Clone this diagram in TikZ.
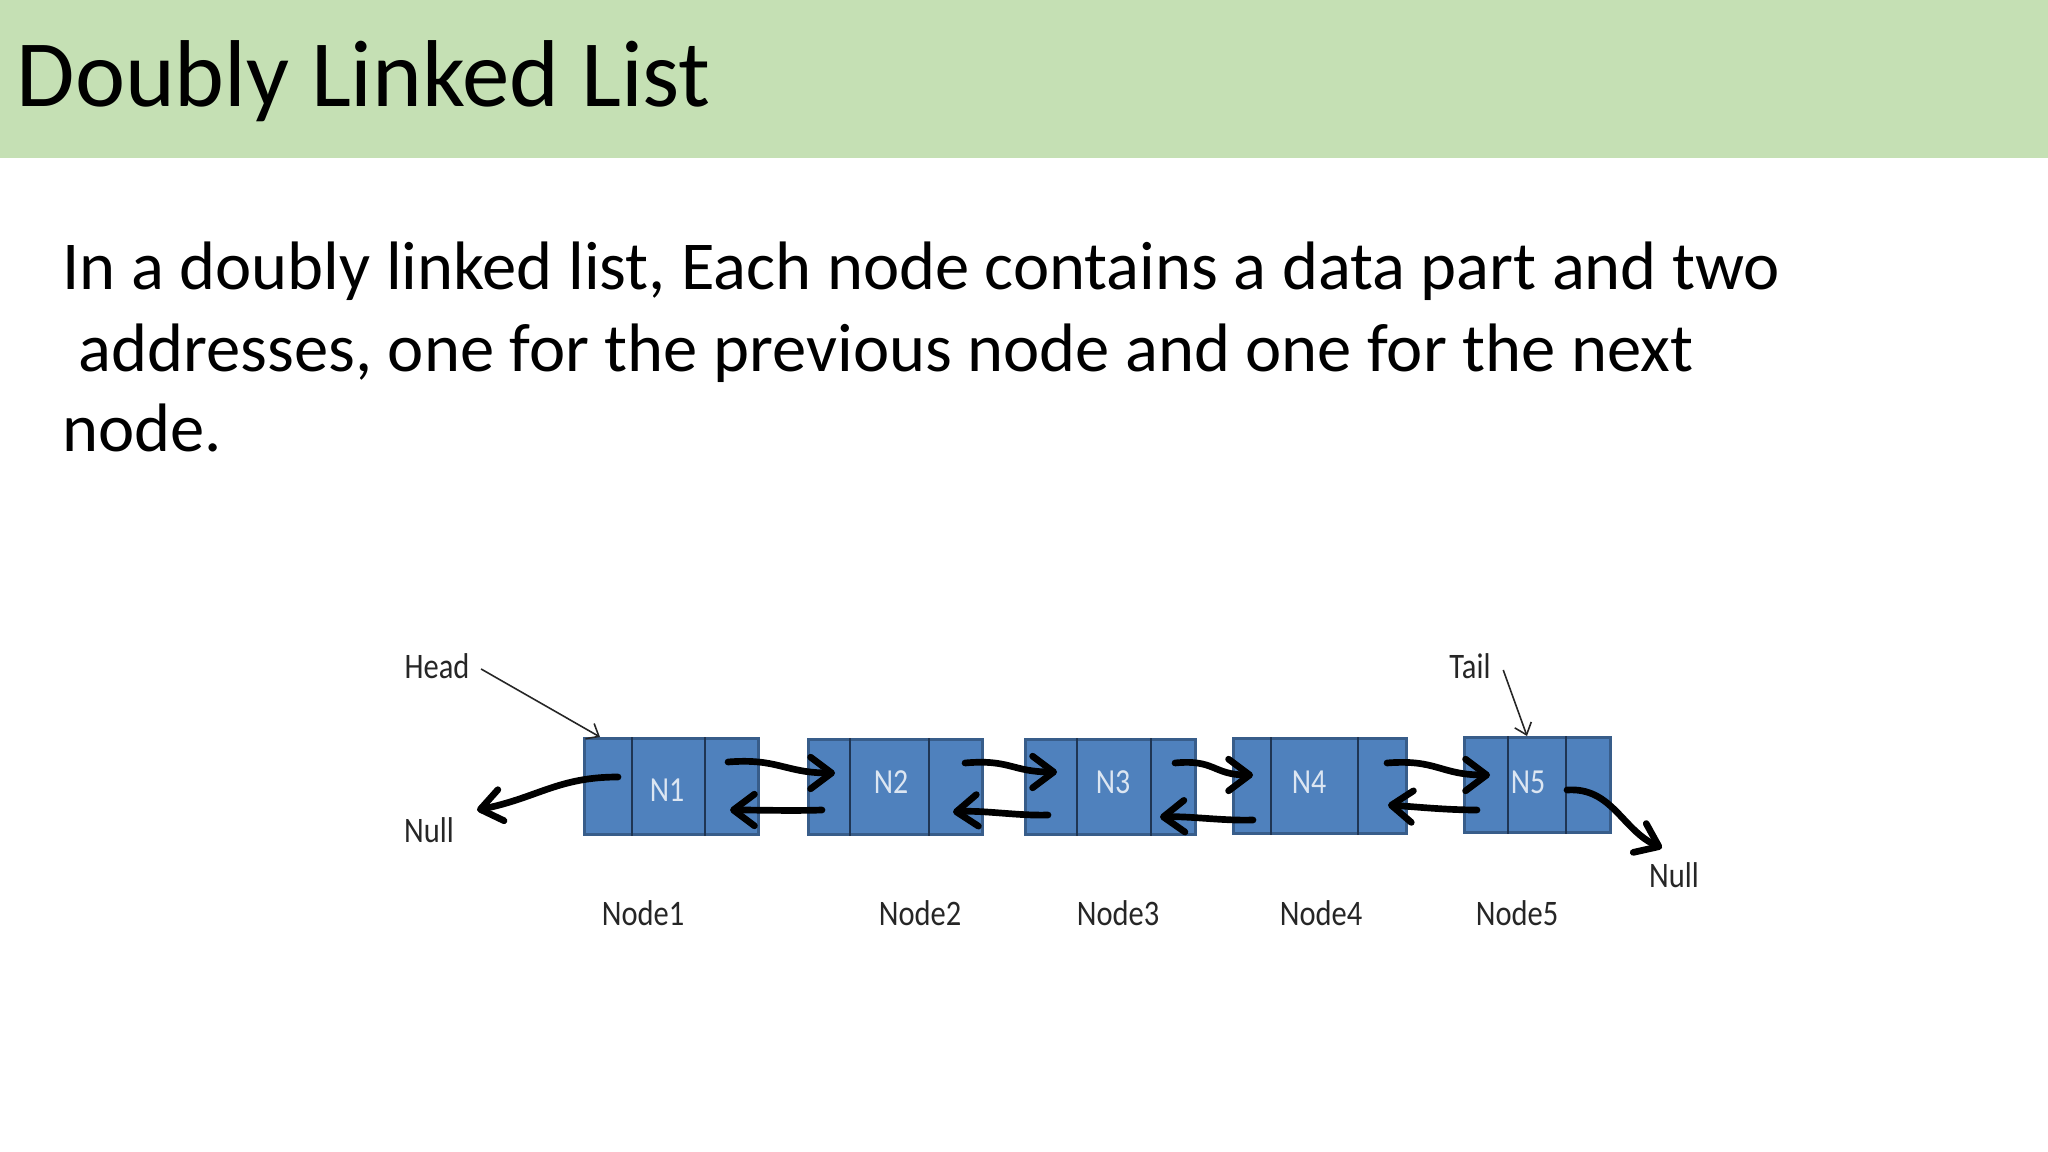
\documentclass[tikz,border=0pt]{standalone}
\usepackage{fontspec}
\setmainfont{Carlito}
\newfontfamily\diafont{Carlito}[FakeStretch=0.85]
\usetikzlibrary{arrows.meta,calc}
\definecolor{band}{HTML}{C5E0B4}
\definecolor{boxfill}{HTML}{4F81BD}
\definecolor{boxline}{HTML}{385D8A}
\definecolor{divline}{HTML}{1F3553}
\definecolor{celltext}{HTML}{DCE6F2}
\definecolor{labeltext}{HTML}{262626}
\tikzset{
 listbox/.style={draw=boxline, line width=0.8pt, fill=boxfill, rectangle, anchor=north west, inner sep=0pt},
 divider/.style={draw=divline, line width=0.7pt},
 celllabel/.style={font=\diafont\fontsize{10}{11}\selectfont, text=celltext, inner sep=0pt},
 caption/.style={font=\diafont\fontsize{10.2}{12}\selectfont, text=labeltext, inner sep=0pt},
 link/.style={draw=black, line width=1.9pt, line cap=round, -{Straight Barb[length=6pt,width=9pt,round]}},
 pointer/.style={draw=labeltext, line width=0.45pt, -{Straight Barb[length=3pt,width=5pt]}},
 bodytext/.style={anchor=base west, inner sep=0pt, font=\fontsize{19.5}{24}\selectfont},
}
\begin{document}
\begin{tikzpicture}[x=0.01cm,y=-0.01cm]
\useasboundingbox (0,0) rectangle (2048,1152);
\fill[white] (0,0) rectangle (2048,1152);
\fill[band] (0,0) rectangle (2048,158);
\node[anchor=base west, inner sep=0pt, font=\fontsize{27}{32}\selectfont] (title) at (16,107) {Doubly Linked List};
\node[bodytext] (line1) at (62,290) {In a doubly linked list, Each node contains a data part and two};
\node[bodytext] (line2) at (78,372) {addresses, one for the previous node and one for the next};
\node[bodytext] (line3) at (62,452) {node.};

% list boxes
\node[listbox, minimum width=1.74cm, minimum height=0.96cm] (n1) at (583,737) {};
\node[listbox, minimum width=1.74cm, minimum height=0.95cm] (n2) at (807,738) {};
\node[listbox, minimum width=1.70cm, minimum height=0.95cm] (n3) at (1024,738) {};
\node[listbox, minimum width=1.73cm, minimum height=0.95cm] (n4) at (1232,737) {};
\node[listbox, minimum width=1.46cm, minimum height=0.95cm] (n5) at (1463,736) {};
% dividers
\draw[divider] ([shift={(49,0)}]n1.north west) -- ([shift={(49,0)}]n1.south west);
\draw[divider] ([shift={(122,0)}]n1.north west) -- ([shift={(122,0)}]n1.south west);
\draw[divider] ([shift={(43,0)}]n2.north west) -- ([shift={(43,0)}]n2.south west);
\draw[divider] ([shift={(122,0)}]n2.north west) -- ([shift={(122,0)}]n2.south west);
\draw[divider] ([shift={(53,0)}]n3.north west) -- ([shift={(53,0)}]n3.south west);
\draw[divider] ([shift={(127,0)}]n3.north west) -- ([shift={(127,0)}]n3.south west);
\draw[divider] ([shift={(39,0)}]n4.north west) -- ([shift={(39,0)}]n4.south west);
\draw[divider] ([shift={(126,0)}]n4.north west) -- ([shift={(126,0)}]n4.south west);
\draw[divider] ([shift={(45,0)}]n5.north west) -- ([shift={(45,0)}]n5.south west);
\draw[divider] ([shift={(103,0)}]n5.north west) -- ([shift={(103,0)}]n5.south west);
% cell labels
\node[celllabel] (l1) at (667,790) {N1};
\node[celllabel] (l2) at (891,782) {N2};
\node[celllabel] (l3) at (1113,782) {N3};
\node[celllabel] (l4) at (1309,782) {N4};
\node[celllabel] (l5) at (1528,782) {N5};
% captions
\node[caption] (c1) at (643,913) {Node1};
\node[caption] (c2) at (920,913) {Node2};
\node[caption] (c3) at (1118,913) {Node3};
\node[caption] (c4) at (1321,913) {Node4};
\node[caption] (c5) at (1517,913) {Node5};
\node[caption] (head) at (437,666) {Head};
\node[caption] (tail) at (1470,666) {Tail};
\node[caption] (nullL) at (429,830) {Null};
\node[caption] (nullR) at (1674,875) {Null};
% pointers
\draw[pointer] ([shift={(11,3)}]head.east) -- ([shift={(17,0)}]n1.north west);
\draw[pointer] ([shift={(12,4)}]tail.east) -- ([shift={(64,0)}]n5.north west);
% null links
\coordinate (nlt) at (477,810);
\coordinate (nrt) at (1662,848);
\draw[link] ([shift={(35,40)}]n1.north west) .. controls +(-60,0) and +(60,-12) .. (nlt);
\draw[link] ([shift={(104,54)}]n5.north west) .. controls +(45,-3) and +(-40,-18) .. (nrt);
% forward links
\draw[link] ([shift={(145,25)}]n1.north west) .. controls +(50,-4) and +(-50,0) .. ([shift={(28,35)}]n2.north west);
\draw[link] ([shift={(158,25)}]n2.north west) .. controls +(45,-4) and +(-45,0) .. ([shift={(33,34)}]n3.north west);
\draw[link] ([shift={(151,25)}]n3.north west) .. controls +(40,-4) and +(-40,0) .. ([shift={(21,38)}]n4.north west);
\draw[link] ([shift={(155,26)}]n4.north west) .. controls +(50,-4) and +(-50,0) .. ([shift={(27,39)}]n5.north west);
% backward links
\draw[link] ([shift={(15,72)}]n2.north west) .. controls +(-30,1) and +(30,0) .. ([shift={(147,73)}]n1.north west);
\draw[link] ([shift={(24,77)}]n3.north west) .. controls +(-30,1) and +(30,-2) .. ([shift={(146,74)}]n2.north west);
\draw[link] ([shift={(21,83)}]n4.north west) .. controls +(-30,1) and +(30,-1) .. ([shift={(136,79)}]n3.north west);
\draw[link] ([shift={(14,74)}]n5.north west) .. controls +(-30,0) and +(30,2) .. ([shift={(156,68)}]n4.north west);
\end{tikzpicture}
\end{document}
